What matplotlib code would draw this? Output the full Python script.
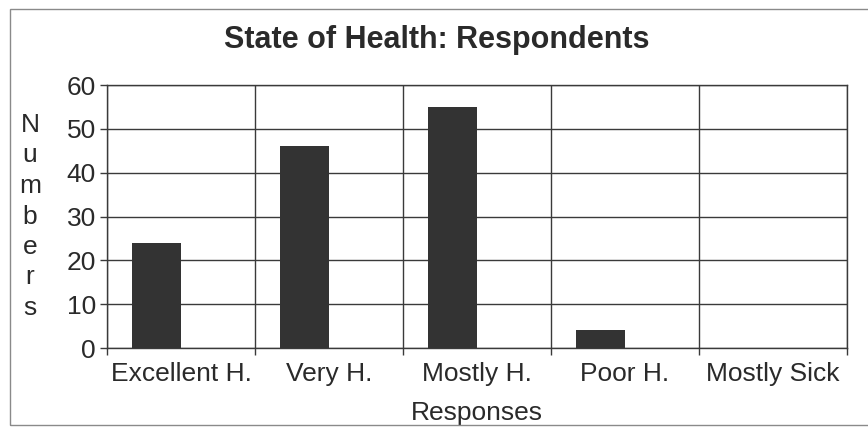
import numpy as np
import matplotlib.pyplot as plt
from matplotlib.patches import Rectangle

# survey results
categories = ['Excellent H.', 'Very H.', 'Mostly H.', 'Poor H.', 'Mostly Sick']
respondents = [24, 46, 55, 4, 0]
y_ticks = [0, 10, 20, 30, 40, 50, 60]

plt.rcParams['font.family'] = ['Liberation Sans', 'DejaVu Sans']

fig = plt.figure(figsize=(8.68, 4.28), dpi=100)
ax = fig.add_axes([0.1233, 0.1869, 0.8525, 0.6145])

# spreadsheet-style grouping: two slots per category, 100% gap
n_slots = 2
gap = 1.0
width = 1.0 / (n_slots + gap)
x = np.arange(len(categories))
offset = -0.5 + gap * width / 2 + width / 2
ax.bar(x + offset, respondents, width=width, color='#333333', zorder=3)

ax.set_xlim(-0.5, len(categories) - 0.5)
ax.set_ylim(0, 60)
ax.set_yticks(y_ticks)
ax.set_xticks(x)
ax.set_xticklabels(categories)
ax.set_xticks(np.arange(len(categories) + 1) - 0.5, minor=True)

grid_col = '#3a3a3a'
text_col = '#2a2a2a'
ax.grid(axis='y', which='major', color=grid_col, linewidth=1.0, zorder=0)
ax.grid(axis='x', which='minor', color=grid_col, linewidth=1.0, zorder=0)
for s in ax.spines.values():
    s.set_color(grid_col)
    s.set_linewidth(1.0)

ax.tick_params(axis='x', which='major', length=0, pad=10, labelsize=19, colors=text_col)
ax.tick_params(axis='x', which='minor', length=5, width=1, color=grid_col)
ax.tick_params(axis='y', length=5, width=1, color=grid_col, pad=3, labelsize=19, labelcolor=text_col)

ax.set_xlabel('Responses', fontsize=19, color=text_col, labelpad=11)

fig.text(0.503, 0.9065, 'State of Health: Respondents', fontsize=22,
         fontweight='bold', color=text_col, ha='center', va='center')

# vertical stacked axis title
label = 'Numbers'
for i, ch in enumerate(label):
    fig.text(0.0346, 1 - (125 + i * 30.5) / 428, ch, fontsize=19,
             color=text_col, ha='center', va='center')

# outer chart border (runs off the right edge)
fig.patches.append(Rectangle((10 / 868, 1 - 425 / 428), 1.05, (425 - 9) / 428,
                             transform=fig.transFigure, fill=False,
                             edgecolor='#8a8a8a', linewidth=1.0))

fig.savefig('out.png', dpi=100)
